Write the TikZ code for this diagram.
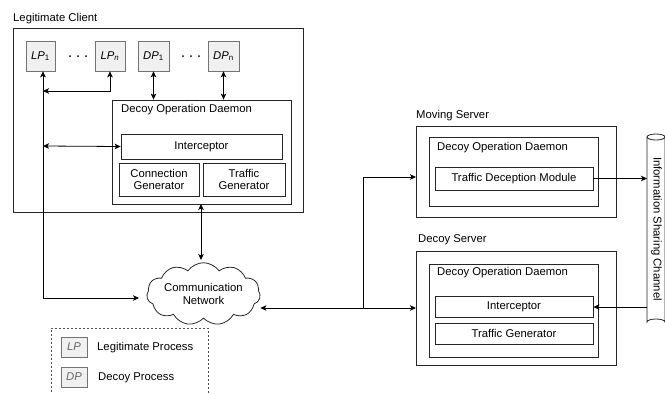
\documentclass[tikz,border=0pt]{standalone}
\usepackage{fontspec}
\setmainfont{Liberation Sans}
\usetikzlibrary{shapes.symbols,arrows.meta}
\begin{document}
\begin{tikzpicture}[x=1pt,y=-1pt,
  font=\fontsize{11.3}{13}\selectfont,
  box/.style={draw=black!85,line width=0.8pt,inner sep=0pt},
  proc/.style={draw=black!55,fill=black!6,line width=0.6pt,inner sep=0pt},
  lbl/.style={anchor=west,inner sep=0pt},
  dotmark/.style={circle,fill=black,inner sep=0pt,minimum size=2pt},
  link/.style={line width=0.8pt,-{Stealth[length=6pt,width=5.5pt,inset=1.5pt]}},
  blink/.style={line width=0.8pt,{Stealth[length=6pt,width=5.5pt,inset=1.5pt]}-{Stealth[length=6pt,width=5.5pt,inset=1.5pt]}}]
\useasboundingbox (0,0) rectangle (665,394);
% Legitimate client
\node[lbl] (lcl) at (13,19) {Legitimate Client};
\draw[box] (13,28) rectangle (303,212);
\node[proc,minimum width=29pt,minimum height=30pt] (lp1) at (40.5,56) {\textit{LP}\textsubscript{1}};
\node[proc,minimum width=30pt,minimum height=30pt] (lpn) at (110,56) {\textit{LP\textsubscript{n}}};
\node[proc,minimum width=31pt,minimum height=30pt] (dp1) at (153.5,56) {\textit{DP}\textsubscript{1}};
\node[proc,minimum width=31pt,minimum height=30pt] (dpn) at (223.5,56) {\textit{DP}\textsubscript{n}};
\node[dotmark] (d1a) at (70,56) {};
\node[dotmark] (d1b) at (78,56) {};
\node[dotmark] (d1c) at (86,56) {};
\node[dotmark] (d2a) at (183,56) {};
\node[dotmark] (d2b) at (191,56) {};
\node[dotmark] (d2c) at (199,56) {};
\node[box,minimum width=179pt,minimum height=104pt] (dod) at (201.5,152) {};
\node[lbl] (dodl) at (121,110) {Decoy Operation Daemon};
\node[box,minimum width=161pt,minimum height=25pt] (int) at (201.5,146.5) {Interceptor};
\node[box,minimum width=80pt,minimum height=33pt,align=center,font=\fontsize{11.3}{12.5}\selectfont] (cg) at (159,179.5) {Connection\\Generator};
\node[box,minimum width=82pt,minimum height=33pt,align=center,font=\fontsize{11.3}{12.5}\selectfont] (tg) at (244,179.5) {Traffic\\Generator};
% cloud
\node[cloud,draw=black!85,line width=0.8pt,cloud puffs=11,cloud puff arc=110,aspect=2.3,inner sep=0pt,minimum width=113pt,minimum height=52pt,align=center,font=\fontsize{11.3}{13}\selectfont] (net) at (203.5,294) {Communication\\Network};
% client arrows
\coordinate (j1) at (43,91);
\coordinate (j2) at (43,146);
\coordinate (j3) at (43,298);
\coordinate (cn) at (139,298);
\draw[link] (j3) -- (lp1.south -| j3);
\draw[link] (j3) -- (cn);
\draw[blink] (j1) -- (j1 -| lpn) -- (lpn.south);
\draw[blink] (j2) -- (int.west);
\draw[blink] (dp1.south) -- (dp1.south |- dod.north);
\draw[blink] (dpn.south) -- (dpn.south |- dod.north);
\draw[blink] (201,204) -- (201,260);
% Moving server
\node[lbl] (msl) at (416,116) {Moving Server};
\node[box,minimum width=200pt,minimum height=91pt] (ms) at (516,171.5) {};
\node[box,minimum width=169pt,minimum height=69pt] (msd) at (513.5,171.5) {};
\node[lbl] (msdl) at (437,148) {Decoy Operation Daemon};
\node[box,minimum width=158pt,minimum height=23pt] (tdm) at (514,178.5) {Traffic Deception Module};
% Decoy server
\node[lbl] (dsl) at (418,240) {Decoy Server};
\node[box,minimum width=200pt,minimum height=114pt] (ds) at (516,308) {};
\node[box,minimum width=169pt,minimum height=93pt] (dsd) at (513.5,310.5) {};
\node[lbl] (dsdl) at (437,273) {Decoy Operation Daemon};
\node[box,minimum width=158pt,minimum height=21pt] (dsi) at (514,306.5) {Interceptor};
\node[box,minimum width=158pt,minimum height=21pt] (dstg) at (514,333.5) {Traffic Generator};
% channel cylinder
\draw[box] (647,137) -- (647,322) arc[start angle=180,end angle=360,x radius=9,y radius=3] -- (665,137);
\draw[box] (656,137) ellipse[x radius=9,y radius=3];
\node[rotate=-90,inner sep=0pt] (isc) at (656.5,229) {Information Sharing Channel};
\coordinate (cyl) at (647,178.5);
\coordinate (cyl2) at (647,307);
% server arrows
\coordinate (sj) at (363,308);
\draw[link] (sj) -- (net.east |- sj) ;
\draw[link] (sj) -- (416,308);
\draw[link] (sj) -- (363,177) -- (416,177);
\draw[link] (tdm.east) -- (cyl);
\draw[link] (cyl2) -- (dsi.east |- cyl2);
% legend
\draw[black!70,line width=0.8pt,dash pattern=on 2pt off 2pt] (51,400) -- (51,328) -- (208,328) -- (208,400);
\node[proc,minimum width=26pt,minimum height=20pt,text=black!60] (llp) at (74,347) {\textit{LP}};
\node[proc,minimum width=26pt,minimum height=20pt,text=black!60] (ldp) at (74,377) {\textit{DP}};
\node[lbl] (llpt) at (97,348) {Legitimate Process};
\node[lbl] (ldpt) at (98,378) {Decoy Process};
\end{tikzpicture}
\end{document}
